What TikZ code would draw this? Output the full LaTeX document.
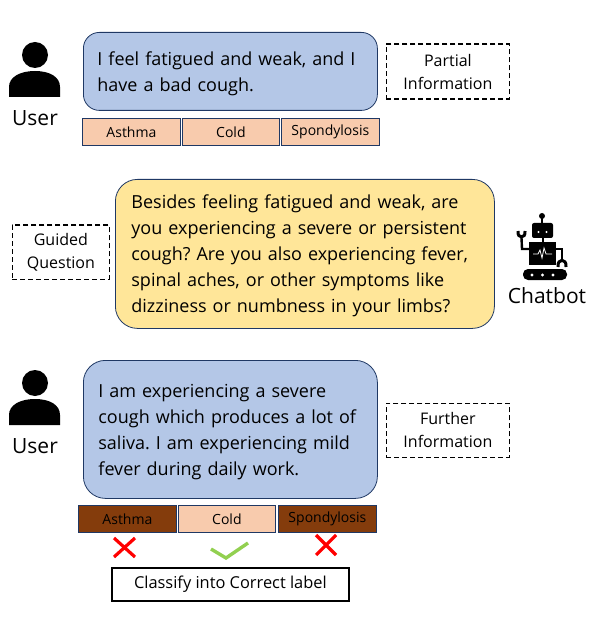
\documentclass[tikz,border=0pt]{standalone}
\usepackage{xcolor}
\usepackage{fontspec}
\setmainfont{Open Sans}
\usetikzlibrary{calc}
\definecolor{bubbleblue}{HTML}{B4C7E7}
\definecolor{bubbleyellow}{HTML}{FFE699}
\definecolor{labelpeach}{HTML}{F8CBAD}
\definecolor{labelbrown}{HTML}{843C0C}
\definecolor{edgeblue}{HTML}{1F3864}
\definecolor{tickgreen}{HTML}{92D050}
\newcommand{\firstline}[1]{\rule{0pt}{#1}}

\begin{document}
\frenchspacing
\begin{tikzpicture}[
    x=1pt, y=-1pt,
    font=\fontsize{18}{26}\selectfont,
    bubble/.style={draw=edgeblue, rounded corners=16pt, align=left, anchor=north west, inner sep=0pt, thick},
    tag/.style={draw=edgeblue, anchor=north west, inner sep=0pt, minimum height=27pt, minimum width=98pt, fill=labelpeach, font=\fontsize{14}{15}\selectfont, thick},
    tagoff/.style={tag, fill=labelbrown},
    note/.style={draw, dash pattern=on 5pt off 3pt, line width=1.8pt, anchor=north west, inner sep=0pt, align=center, font=\fontsize{16}{23}\selectfont},
    who/.style={font=\fontsize{21}{24}\selectfont},
    cross/.style={red, line width=3.2pt},
    user/.pic={
        \fill[black] (35,55) circle (13);
        \fill[black] (9,97) -- (9,87) .. controls (9,77) and (20,71) .. (35,71) .. controls (50,71) and (60,77) .. (60,87) -- (60,97) -- cycle;
    }
]
\useasboundingbox (0,0) rectangle (599,617);

% first turn
\pic at (0,0) {user};
\node[who] (user1) at (35,118) {User};
\node[bubble, fill=bubbleblue, minimum width=294pt, minimum height=78pt, text width=266pt, inner xsep=14pt] (msg1) at (83,32) {\firstline{19pt}I feel fatigued and weak, and I\\have a bad cough.};
\node[tag] (asthma1) at (82,118) {Asthma};
\node[tag, minimum width=97pt] (cold1) at (182,118) {Cold};
\node[tag] (spondy1) at (281,118) {Spondylosis};
\node[note, minimum width=123pt, minimum height=55pt] (partial) at (385.5,43.5) {Partial\\Information};

% chatbot question
\node[note, minimum width=97pt, minimum height=54pt] (guided) at (11.5,224.5) {Guided\\Question};
\node[bubble, fill=bubbleyellow, rounded corners=22pt, minimum width=379pt, minimum height=149pt, text width=347pt, inner xsep=16pt] (msg2) at (115,179) {\firstline{17pt}Besides feeling fatigued and weak, are\\you experiencing a severe or persistent\\cough? Are you also experiencing fever,\\spinal aches, or other symptoms like\\dizziness or numbness in your limbs?};

% robot
\fill[black] (542,216) circle (3);
\draw[black, line width=1.2pt] (542,216) -- (542,224);
\fill[black, rounded corners=2pt] (532,223) rectangle (553,238);
\fill[white] (538.5,232) circle (1.2) (546.5,232) circle (1.2);
\draw[black, line width=1.5pt] (543,238) -- (543,242);
\fill[black] (529,242) rectangle (556,265);
\draw[white, line width=.8pt] (533,254) -- (538,254) -- (540,250) -- (542,258) -- (544,248) -- (546,254) -- (552,254);
\draw[black, line width=2.4pt] (529,249) -- (522,249) -- (521.5,238);
\draw[black, line width=3pt] (518,231) .. controls (517,239) and (526,239) .. (525,231);
\draw[black, line width=2.4pt] (556,249) -- (562,249) -- (562,260);
\draw[black, line width=3pt] (558,267) .. controls (557,258) and (567,258) .. (566,267);
\fill[black, rounded corners=5pt] (523,269) rectangle (567,280);
\fill[white] (532,275) circle (1.6) (542.5,275) circle (1.6) (553,275) circle (1.6);
\node[who] (chatbot) at (547,296) {Chatbot};

% second turn
\pic at (0,328) {user};
\node[who] (user2) at (35,446) {User};
\node[bubble, fill=bubbleblue, rounded corners=22pt, minimum width=294pt, minimum height=138pt, text width=264pt, inner xsep=15pt] (msg3) at (83,360) {\firstline{19pt}I am experiencing a severe\\cough which produces a lot of\\saliva. I am experiencing mild\\fever during daily work.};
\node[note, minimum width=123pt, minimum height=54pt] (further) at (385.5,402.5) {Further\\Information};
\node[tagoff] (asthma2) at (78,505) {Asthma};
\node[tag, minimum width=97pt] (cold2) at (178,505) {Cold};
\node[tagoff] (spondy2) at (278,505) {Spondylosis};

% verdicts
\draw[cross] (114,538) -- (135,557) (135,538) -- (114,557);
\draw[tickgreen, line width=3.4pt] (211,549) -- (226,558) -- (248,543);
\draw[cross] (316,535) -- (336,555) (336,535) -- (316,555);
\node[draw, line width=1.8pt, anchor=north west, inner sep=0pt, minimum width=237pt, minimum height=33pt, font=\fontsize{16.4}{18}\selectfont] (classify) at (111,567) {Classify into Correct label};
\end{tikzpicture}
\end{document}
